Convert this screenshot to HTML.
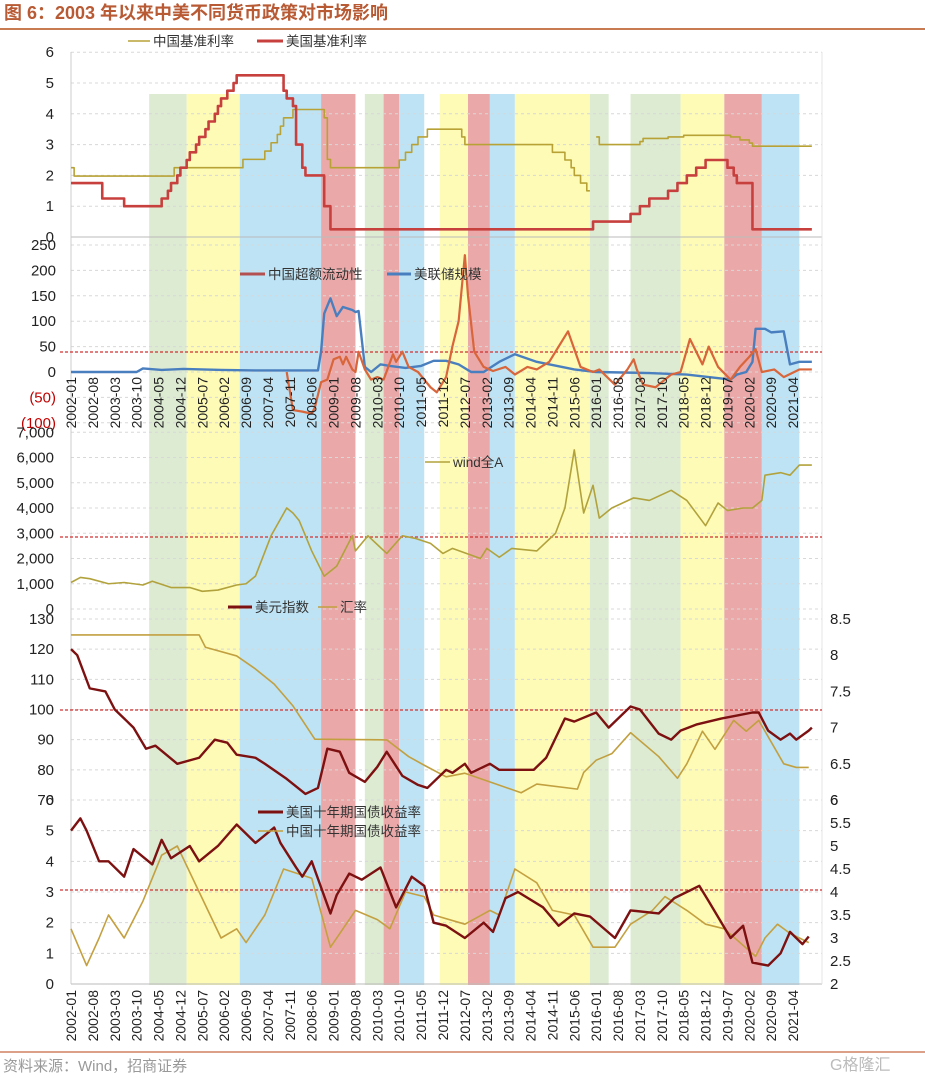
<!DOCTYPE html>
<html><head><meta charset="utf-8">
<style>
html,body{margin:0;padding:0;background:#fff;}
svg{display:block;font-family:"Liberation Sans","Noto Sans CJK SC",sans-serif;}
</style></head>
<body>
<svg id="chart" width="925" height="1078" viewBox="0 0 925 1078" xmlns="http://www.w3.org/2000/svg">
<text x="4" y="19" font-size="18" font-weight="bold" fill="#b85a34" font-family="Liberation Sans, Noto Sans CJK SC, sans-serif">图 6：2003 年以来中美不同货币政策对市场影响</text>
<line x1="0" y1="29" x2="925" y2="29" stroke="#c87a50" stroke-width="2"/>
<g id="bands"></g>
<g id="grid"></g>
<g id="series"></g>
<g id="axes"></g>
<g id="legend"></g>
<line x1="0" y1="1052" x2="925" y2="1052" stroke="#d08060" stroke-width="1.5"/>
<text x="3" y="1071" font-size="15" fill="#999">资料来源：Wind，招商证券</text>
<text x="830" y="1070" font-size="16" fill="#bbb">G格隆汇</text>
</svg>
<script>
// ---------- data ----------
const xTickLabels=["2002-01","2002-08","2003-03","2003-10","2004-05","2004-12","2005-07","2006-02","2006-09","2007-04","2007-11","2008-06","2009-01","2009-08","2010-03","2010-10","2011-05","2011-12","2012-07","2013-02","2013-09","2014-04","2014-11","2015-06","2016-01","2016-08","2017-03","2017-10","2018-05","2018-12","2019-07","2020-02","2020-09","2021-04"];
const bandStarts=["2004-02","2005-02","2006-07","2008-09","2009-11","2010-05","2010-10","2011-11","2012-08","2013-03","2013-11","2015-11","2016-12","2018-04","2019-06","2020-06"];
const bandEnds=["2005-02","2006-07","2008-09","2009-08","2010-05","2010-10","2011-06","2012-08","2013-03","2013-11","2015-11","2016-05","2018-04","2019-06","2020-06","2021-06"];
const bandKinds=["g","y","b","r","g","r","b","y","r","b","y","g","g","y","r","b"];

const cnRateDates=["2002-01","2002-02","2004-10","2006-08","2007-03","2007-05","2007-07","2007-08","2007-09","2007-12","2008-10","2008-11","2008-12","2010-10","2010-12","2011-02","2011-04","2011-07","2012-06","2012-07","2014-11","2015-03","2015-05","2015-06","2015-08","2015-10","2015-11"];
const cnRateValues=[2.25,1.98,2.25,2.52,2.79,3.06,3.33,3.6,3.87,4.14,3.87,2.52,2.25,2.5,2.75,3.0,3.25,3.5,3.25,3.0,2.75,2.5,2.25,2.0,1.75,1.5,1.5];
const cnLprDates=["2016-01","2016-02","2017-03","2017-04","2017-12","2018-05","2019-08","2019-11","2020-02","2020-03","2021-10"];
const cnLprValues=[3.25,3.0,3.1,3.2,3.25,3.3,3.25,3.15,3.05,2.95,2.95];
const usRateDates=["2002-01","2002-11","2003-06","2004-06","2004-08","2004-09","2004-11","2004-12","2005-02","2005-03","2005-05","2005-06","2005-08","2005-09","2005-11","2005-12","2006-01","2006-03","2006-05","2006-06","2007-09","2007-10","2007-12","2008-01","2008-03","2008-04","2008-10","2008-12","2015-12","2016-12","2017-03","2017-06","2017-12","2018-03","2018-06","2018-09","2018-12","2019-07","2019-09","2019-10","2020-03","2021-10"];
const usRateValues=[1.75,1.25,1.0,1.25,1.5,1.75,2.0,2.25,2.5,2.75,3.0,3.25,3.5,3.75,4.0,4.25,4.5,4.75,5.0,5.25,4.75,4.5,4.25,3.0,2.25,2.0,1.0,0.25,0.5,0.75,1.0,1.25,1.5,1.75,2.0,2.25,2.5,2.25,2.0,1.75,0.25,0.25];

const fedDates=["2002-01","2003-10","2003-12","2004-06","2005-01","2006-01","2007-01","2008-08","2008-09","2008-10","2008-12","2009-02","2009-04","2009-07","2009-08","2009-09","2009-11","2010-01","2010-04","2010-07","2010-12","2011-05","2011-09","2012-01","2012-05","2012-09","2013-01","2013-06","2013-11","2014-06","2015-06","2016-01","2017-06","2018-06","2019-08","2019-10","2020-01","2020-03","2020-04","2020-07","2020-09","2021-01","2021-03","2021-06","2021-10"];
const fedValues=[0,0,7,4,6,4,3,3,40,115,145,110,128,122,118,120,10,0,15,12,8,12,22,22,15,0,0,20,35,20,5,0,-2,-5,-15,-5,0,20,85,85,78,80,15,20,20];
const liqDates=["2007-10","2007-12","2008-03","2008-06","2008-07","2008-09","2008-11","2009-01","2009-03","2009-04","2009-05","2009-07","2009-08","2009-09","2009-11","2010-01","2010-03","2010-05","2010-08","2010-09","2010-11","2011-01","2011-04","2011-08","2011-10","2012-01","2012-03","2012-05","2012-07","2012-08","2012-10","2013-01","2013-04","2013-08","2013-11","2014-03","2014-06","2014-10","2015-04","2015-08","2015-12","2016-02","2016-07","2016-11","2017-01","2017-02","2017-04","2017-08","2018-01","2018-04","2018-07","2018-11","2019-01","2019-04","2019-08","2019-11","2020-02","2020-04","2020-06","2020-10","2021-01","2021-06","2021-10"];
const liqValues=[0,-75,-78,-82,-70,-20,-15,25,30,15,30,5,0,40,5,-15,-10,-15,35,20,40,10,0,-30,-40,-10,50,100,230,150,40,10,2,10,-5,10,5,20,80,10,0,5,-25,5,25,5,-25,-30,-5,0,65,15,50,10,-15,10,30,45,0,5,-10,5,5];

const windDates=["2002-01","2002-04","2002-07","2003-01","2003-06","2003-12","2004-03","2004-09","2005-03","2005-07","2005-12","2006-06","2006-09","2006-12","2007-05","2007-10","2007-12","2008-02","2008-06","2008-10","2009-02","2009-07","2009-08","2009-12","2010-06","2010-11","2011-03","2011-08","2011-12","2012-03","2012-12","2013-02","2013-06","2013-10","2014-06","2014-12","2015-03","2015-06","2015-09","2015-12","2016-02","2016-06","2017-01","2017-06","2018-01","2018-06","2018-12","2019-04","2019-07","2019-12","2020-03","2020-06","2020-07","2020-12","2021-03","2021-06","2021-10"];
const windValues=[1050,1250,1200,1000,1050,950,1100,850,850,700,750,950,1000,1300,2900,4000,3800,3500,2300,1300,1700,2900,2300,2900,2200,2900,2800,2600,2200,2400,2000,2400,2050,2400,2300,3000,4000,6300,3800,4900,3600,4000,4400,4300,4700,4300,3300,4200,3900,4000,4000,4300,5300,5400,5300,5700,5700];

const dxyDates=["2002-01","2002-03","2002-07","2002-12","2003-03","2003-06","2003-09","2004-01","2004-04","2004-11","2005-06","2005-11","2006-03","2006-06","2006-12","2007-03","2007-10","2008-04","2008-08","2008-11","2009-03","2009-06","2009-11","2010-03","2010-06","2010-11","2011-04","2011-07","2012-01","2012-03","2012-07","2012-09","2013-03","2013-06","2014-05","2014-09","2015-03","2015-06","2016-01","2016-05","2016-12","2017-03","2017-09","2018-01","2018-04","2018-09","2019-01","2019-05","2019-10","2020-03","2020-05","2020-08","2020-12","2021-03","2021-05","2021-09","2021-10"];
const dxyValues=[120,118,107,106,100,97,94,87,88,82,84,90,89,85,84,82,77,72,74,87,86,79,76,81,86,78,75,74,80,79,82,79,82,80,80,84,97,96,99,94,101,100,92,90,93,95,96,97,98,99,99,93,90,92,90,93,94];
const fxDates=["2002-01","2005-06","2005-08","2006-06","2006-12","2007-06","2007-12","2008-07","2010-06","2011-01","2011-06","2012-01","2012-07","2013-01","2014-01","2014-06","2015-07","2015-09","2016-01","2016-06","2016-12","2017-09","2018-03","2018-06","2018-11","2019-03","2019-09","2020-01","2020-05","2020-09","2021-01","2021-05","2021-09"];
const fxValues=[8.28,8.28,8.11,7.99,7.81,7.6,7.3,6.84,6.83,6.6,6.48,6.32,6.37,6.28,6.1,6.22,6.15,6.38,6.55,6.64,6.93,6.6,6.3,6.5,6.95,6.7,7.1,6.95,7.1,6.8,6.5,6.45,6.45];

const us10Dates=["2002-01","2002-04","2002-06","2002-10","2003-01","2003-06","2003-09","2004-03","2004-06","2004-09","2005-03","2005-06","2005-12","2006-06","2006-12","2007-06","2007-08","2008-01","2008-03","2008-06","2008-12","2009-02","2009-06","2009-10","2010-04","2010-09","2011-02","2011-06","2011-09","2012-01","2012-07","2013-01","2013-04","2013-08","2013-12","2014-08","2015-01","2015-06","2015-11","2016-07","2016-12","2017-09","2018-02","2018-10","2019-01","2019-08","2019-12","2020-03","2020-08","2020-12","2021-03","2021-07","2021-09"];
const us10Values=[5.0,5.4,5.0,4.0,4.0,3.5,4.4,3.9,4.7,4.1,4.5,4.0,4.5,5.2,4.6,5.1,4.6,3.8,3.5,4.0,2.3,2.9,3.6,3.4,3.8,2.5,3.5,3.2,2.0,1.9,1.5,2.0,1.7,2.8,3.0,2.5,1.9,2.3,2.2,1.5,2.4,2.3,2.8,3.2,2.7,1.5,1.9,0.7,0.6,1.0,1.7,1.3,1.55];
const cn10Dates=["2002-01","2002-06","2002-10","2003-01","2003-06","2003-12","2004-06","2004-11","2005-06","2006-01","2006-06","2006-09","2007-03","2007-09","2008-06","2008-12","2009-03","2009-08","2010-03","2010-07","2010-12","2011-06","2011-09","2012-07","2013-03","2013-06","2013-11","2014-06","2014-11","2015-06","2015-12","2016-07","2016-12","2017-07","2017-11","2018-06","2018-12","2019-06","2020-04","2020-07","2020-11","2021-03","2021-09"];
const cn10Values=[3.2,2.4,3.0,3.5,3.0,3.8,4.8,5.0,4.0,3.0,3.2,2.9,3.5,4.5,4.3,2.8,3.1,3.6,3.4,3.2,4.0,3.9,3.5,3.3,3.6,3.5,4.5,4.2,3.6,3.5,2.8,2.8,3.3,3.6,3.9,3.6,3.3,3.2,2.6,3.0,3.3,3.1,2.9];

// ---------- scales ----------
const NS="http://www.w3.org/2000/svg";
function mIdx(d){const p=d.split("-");return (+p[0]-2002)*12+(+p[1]-1);}
function X(d){return 71+mIdx(d)*3.126;}
const y1=v=>237-v*30.8;
const y2=v=>372-v*0.508;
const y3=v=>609-v*0.02525;
const y4L=v=>800-(v-70)*3.017;
const y4R=v=>800-(v-6)*72.4;
const y5L=v=>984-v*30.67;
const y5R=v=>984-(v-2)*46;
function mk(tag,attrs,parent){const e=document.createElementNS(NS,tag);for(const k in attrs)e.setAttribute(k,attrs[k]);parent.appendChild(e);return e;}

// bands
const bandFill={g:"#dcebd2",y:"#fdfbb6",b:"#bee3f4",r:"#eba8a8"};
const gB=document.getElementById("bands");
bandStarts.forEach((s,i)=>{
  const r=mk("rect",{x:X(s),y:94,width:X(bandEnds[i])-X(s),height:891,fill:bandFill[bandKinds[i]]},gB);
  
  
});

// grid + axis labels
const gG=document.getElementById("grid"), gA=document.getElementById("axes");
function hgrid(y){const l=mk("line",{x1:71,x2:822,y1:y,y2:y,stroke:"#d8d8d8","stroke-dasharray":"3,3"},gG);}
function ylab(x,y,t,anchor,col){const e=mk("text",{x:x,y:y+5,"font-size":15,fill:col||"#222","text-anchor":anchor||"end"},gA);e.textContent=t;}
[0,1,2,3,4,5,6].forEach(v=>{hgrid(y1(v));ylab(54,y1(v),String(v));});
[250,200,150,100,50,0,-50,-100].forEach(v=>{hgrid(y2(v));ylab(56,y2(v),v<0?"("+(-v)+")":String(v),"end",v<0?"#c00000":"#222");});
[0,1000,2000,3000,4000,5000,6000,7000].forEach(v=>{hgrid(y3(v));ylab(54,y3(v),v.toLocaleString("en-US"));});
[70,80,90,100,110,120,130].forEach(v=>{hgrid(y4L(v));ylab(54,y4L(v),String(v));});
[6,6.5,7,7.5,8,8.5].forEach(v=>ylab(830,y4R(v),String(v),"start"));
[0,1,2,3,4,5,6].forEach(v=>{hgrid(y5L(v));ylab(54,y5L(v),String(v));});
[2,2.5,3,3.5,4,4.5,5,5.5,6].forEach(v=>ylab(830,y5R(v),String(v),"start"));
[[71,y1(0)],[71,y5L(0)]].forEach(p=>{const l=mk("line",{x1:71,x2:822,y1:p[1],y2:p[1],stroke:"#bbb"},gG);});
const vx=mk("line",{x1:71,x2:71,y1:52,y2:984,stroke:"#ccc"},gG);
const vr=mk("line",{x1:822,x2:822,y1:52,y2:984,stroke:"#e4e4e4"},gG);

// x tick labels (two rows)
[377,990].forEach(top=>{
  xTickLabels.forEach(d=>{
    const x=X(d)+5;
    const t=mk("text",{x:0,y:0,"font-size":14,fill:"#222","text-anchor":"end",transform:`translate(${x},${top}) rotate(-90)`},gA);
    t.textContent=d;
    
    
  });
});

// threshold dashed lines
[[352,822],[537,822],[710,822],[890,822]].forEach(p=>{const l=mk("line",{x1:60,x2:p[1],y1:p[0],y2:p[0],stroke:"#d03030","stroke-dasharray":"3,2","stroke-width":1.2},gG);});

// series
const gS=document.getElementById("series");
function pathOf(dates,vals,ys,step){
  let d="";
  dates.forEach((dt,i)=>{
    const x=X(dt),y=ys(vals[i]);
    if(i===0)d+=`M${x},${y}`;
    else if(step)d+=`H${x}V${y}`;
    else d+=`L${x},${y}`;
  });
  return d;
}
function drawSeries(name,dates,vals,ys,col,w,step){
  const p=mk("path",{d:pathOf(dates,vals,ys,step),fill:"none",stroke:col,"stroke-width":w,"stroke-linejoin":"round"},gS);
  
  
}
drawSeries("cn-base-rate-line",cnRateDates,cnRateValues,y1,"#b8a236",1.6,true);
drawSeries("cn-lpr-line",cnLprDates,cnLprValues,y1,"#b8a236",1.6,true);
drawSeries("us-base-rate-line",usRateDates,usRateValues,y1,"#c8403e",2.6,true);
drawSeries("fed-balance-line",fedDates,fedValues,y2,"#4a7fbf",2.4,false);
drawSeries("cn-excess-liquidity-line",liqDates,liqValues,y2,"#d9653a",2.2,false);
drawSeries("wind-all-a-line",windDates,windValues,y3,"#b2a23c",1.6,false);
drawSeries("fx-rate-line",fxDates,fxValues,y4R,"#c2a040",1.6,false);
drawSeries("dollar-index-line",dxyDates,dxyValues,y4L,"#7d1010",2.4,false);
drawSeries("cn-10y-yield-line",cn10Dates,cn10Values,y5R,"#c4a040",1.6,false);
drawSeries("us-10y-yield-line",us10Dates,us10Values,y5L,"#7d1010",2.4,false);

// legends
const gL=document.getElementById("legend");
function leg(x1,x2,y,col,w,label,name){
  const g=mk("g",{},gL);
  
  
  mk("line",{x1:x1,x2:x2,y1:y,y2:y,stroke:col,"stroke-width":w},g);
  const t=mk("text",{x:x2+3,y:y+5,"font-size":13.5,fill:"#333"},g);
  t.textContent=label;
}
leg(128,150,41,"#b8a236",1.6,"中国基准利率","legend-cn-base-rate");
leg(257,283,41,"#c8403e",3,"美国基准利率","legend-us-base-rate");
leg(240,265,274,"#b45050",3,"中国超额流动性","legend-cn-excess-liquidity");
leg(387,411,274,"#4a7fbf",3,"美联储规模","legend-fed-balance");
leg(425,450,462,"#b2a23c",1.6,"wind全A","legend-wind-all-a");
leg(228,252,607,"#7d1010",3,"美元指数","legend-dollar-index");
leg(318,337,607,"#c2a040",1.6,"汇率","legend-fx-rate");
leg(258,283,812,"#7d1010",3,"美国十年期国债收益率","legend-us-10y");
leg(258,283,831,"#c4a040",1.6,"中国十年期国债收益率","legend-cn-10y");
</script>
</body></html>
